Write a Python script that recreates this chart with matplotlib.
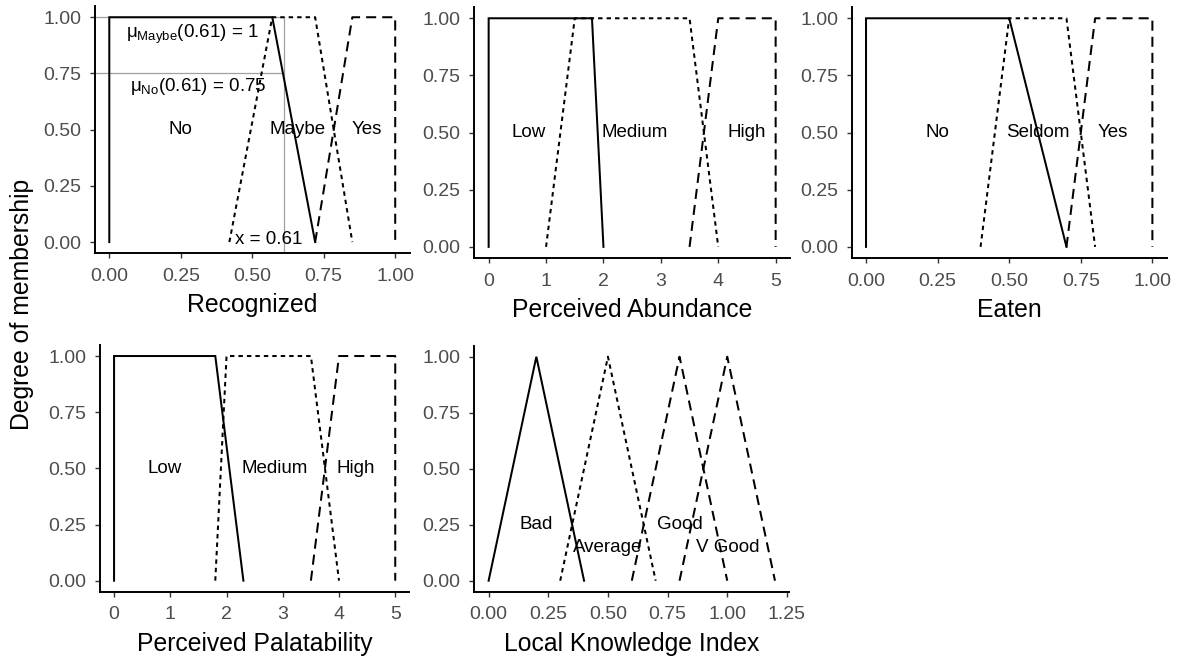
import matplotlib
matplotlib.use("Agg")
import matplotlib.pyplot as plt

plt.rcParams['font.family'] = ['Liberation Sans', 'DejaVu Sans']
plt.rcParams['mathtext.fontset'] = 'custom'
plt.rcParams['mathtext.rm'] = 'Liberation Sans'
plt.rcParams['mathtext.it'] = 'Liberation Sans:italic'

# ---------------- data ----------------
# Recognized
rec_no_x = [0, 0, 0.57, 0.72]
rec_no_y = [0, 1, 1, 0]
rec_maybe_x = [0.42, 0.57, 0.72, 0.85]
rec_maybe_y = [0, 1, 1, 0]
rec_yes_x = [0.72, 0.85, 1.0, 1.0]
rec_yes_y = [0, 1, 1, 0]
rec_labels = ["No", "Maybe", "Yes"]
rec_label_x = [0.25, 0.66, 0.90]
rec_xticks = [0.00, 0.25, 0.50, 0.75, 1.00]
rec_x_value = 0.61
rec_mu_maybe = 1.0
rec_mu_no = 0.75

# Perceived Abundance
ab_low_x = [0, 0, 1.8, 2.0]
ab_low_y = [0, 1, 1, 0]
ab_med_x = [1.0, 1.5, 3.5, 4.0]
ab_med_y = [0, 1, 1, 0]
ab_high_x = [3.5, 4.0, 5.0, 5.0]
ab_high_y = [0, 1, 1, 0]
ab_labels = ["Low", "Medium", "High"]
ab_label_x = [0.7, 2.55, 4.5]
ab_xticks = [0, 1, 2, 3, 4, 5]

# Eaten
eat_no_x = [0, 0, 0.5, 0.7]
eat_no_y = [0, 1, 1, 0]
eat_sel_x = [0.4, 0.5, 0.7, 0.8]
eat_sel_y = [0, 1, 1, 0]
eat_yes_x = [0.7, 0.8, 1.0, 1.0]
eat_yes_y = [0, 1, 1, 0]
eat_labels = ["No", "Seldom", "Yes"]
eat_label_x = [0.25, 0.6, 0.86]
eat_xticks = [0.00, 0.25, 0.50, 0.75, 1.00]

# Perceived Palatability
pal_low_x = [0, 0, 1.8, 2.3]
pal_low_y = [0, 1, 1, 0]
pal_med_x = [1.8, 2.0, 3.5, 4.0]
pal_med_y = [0, 1, 1, 0]
pal_high_x = [3.5, 4.0, 5.0, 5.0]
pal_high_y = [0, 1, 1, 0]
pal_labels = ["Low", "Medium", "High"]
pal_label_x = [0.9, 2.85, 4.3]
pal_xticks = [0, 1, 2, 3, 4, 5]

# Local Knowledge Index
lki_bad_x = [0.0, 0.2, 0.4]
lki_bad_y = [0, 1, 0]
lki_avg_x = [0.3, 0.5, 0.7]
lki_avg_y = [0, 1, 0]
lki_good_x = [0.6, 0.8, 1.0]
lki_good_y = [0, 1, 0]
lki_vgood_x = [0.8, 1.0, 1.2]
lki_vgood_y = [0, 1, 0]
lki_labels = ["Bad", "Average", "Good", "V Good"]
lki_label_x = [0.2, 0.5, 0.8, 1.0]
lki_label_y = [0.25, 0.15, 0.25, 0.15]
lki_xticks = [0.00, 0.25, 0.50, 0.75, 1.00, 1.25]

yticks = [0.00, 0.25, 0.50, 0.75, 1.00]

# ---------------- styles ----------------
LW = 1.45
SOLID = dict(color='black', lw=LW, linestyle='-', solid_joinstyle='miter')
DOTTED = dict(color='black', lw=LW, linestyle=(0, (2.2, 2.0)))
DASHED = dict(color='black', lw=LW, linestyle=(0, (5.0, 3.0)))
TICKCOL = '#4D4D4D'
TICK_FS = 14
LABEL_FS = 13.5
TITLE_FS = 17.8

W, H = 1179, 658
fig = plt.figure(figsize=(W / 100, H / 100), dpi=100)


def make_ax(left, top, right, bottom):
    return fig.add_axes([left / W, 1 - bottom / H, (right - left) / W, (bottom - top) / H])


def style(ax, xticks, xfmt, xlabel, xlim):
    for s in ['top', 'right']:
        ax.spines[s].set_visible(False)
    for s in ['left', 'bottom']:
        ax.spines[s].set_linewidth(1.4)
        ax.spines[s].set_color('black')
    ax.set_xlim(*xlim)
    ax.set_ylim(-0.05, 1.05)
    ax.set_yticks(yticks)
    ax.set_yticklabels([f"{v:.2f}" for v in yticks])
    ax.set_xticks(xticks)
    ax.set_xticklabels([xfmt.format(v) for v in xticks])
    ax.tick_params(axis='both', colors='#333333', labelcolor=TICKCOL, labelsize=TICK_FS,
                   length=3.8, width=1.0)
    ax.tick_params(axis='x', pad=6.5)
    ax.tick_params(axis='y', pad=6.0)
    ax.set_xlabel(xlabel, fontsize=TITLE_FS, color='black', labelpad=6)


def exp_lim(lo, hi):
    d = (hi - lo) * 0.05
    return (lo - d, hi + d)


# Panel 1: Recognized
ax1 = make_ax(95, 6, 409.5, 253.3)
ax1.plot([-0.05, rec_x_value], [rec_mu_maybe, rec_mu_maybe], color='#A0A0A0', lw=0.9, zorder=1)
ax1.plot([-0.05, rec_x_value], [rec_mu_no, rec_mu_no], color='#A0A0A0', lw=0.9, zorder=1)
ax1.plot([rec_x_value, rec_x_value], [-0.05, 1.0], color='#A0A0A0', lw=0.9, zorder=1)
ax1.plot(rec_no_x, rec_no_y, **SOLID)
ax1.plot(rec_maybe_x, rec_maybe_y, **DOTTED)
ax1.plot(rec_yes_x, rec_yes_y, **DASHED)
for lab, lx in zip(rec_labels, rec_label_x):
    ax1.text(lx, 0.5, lab, ha='center', va='center', fontsize=LABEL_FS)
ax1.text(0.29, 0.925, r'$\mathrm{μ_{Maybe}}$' + f'({rec_x_value:.2f}) = {rec_mu_maybe:g}',
         ha='center', va='center', fontsize=LABEL_FS)
ax1.text(0.31, 0.69, r'$\mathrm{μ_{No}}$' + f'({rec_x_value:.2f}) = {rec_mu_no:g}',
         ha='center', va='center', fontsize=LABEL_FS)
ax1.text(0.557, 0.01, f'x = {rec_x_value:.2f}', ha='center', va='center', fontsize=LABEL_FS)
style(ax1, rec_xticks, "{:.2f}", "Recognized", exp_lim(0, 1))

# Panel 2: Perceived Abundance
ax2 = make_ax(474.3, 6.85, 790, 258.3)
ax2.plot(ab_low_x, ab_low_y, **SOLID)
ax2.plot(ab_med_x, ab_med_y, **DOTTED)
ax2.plot(ab_high_x, ab_high_y, **DASHED)
for lab, lx in zip(ab_labels, ab_label_x):
    ax2.text(lx, 0.5, lab, ha='center', va='center', fontsize=LABEL_FS)
style(ax2, ab_xticks, "{:d}", "Perceived Abundance", exp_lim(0, 5))

# Panel 3: Eaten
ax3 = make_ax(851.7, 6.85, 1166.7, 258.3)
ax3.plot(eat_no_x, eat_no_y, **SOLID)
ax3.plot(eat_sel_x, eat_sel_y, **DOTTED)
ax3.plot(eat_yes_x, eat_yes_y, **DASHED)
for lab, lx in zip(eat_labels, eat_label_x):
    ax3.text(lx, 0.5, lab, ha='center', va='center', fontsize=LABEL_FS)
style(ax3, eat_xticks, "{:.2f}", "Eaten", exp_lim(0, 1))

# Panel 4: Perceived Palatability
ax4 = make_ax(100, 344.8, 409.3, 591.9)
ax4.plot(pal_low_x, pal_low_y, **SOLID)
ax4.plot(pal_med_x, pal_med_y, **DOTTED)
ax4.plot(pal_high_x, pal_high_y, **DASHED)
for lab, lx in zip(pal_labels, pal_label_x):
    ax4.text(lx, 0.5, lab, ha='center', va='center', fontsize=LABEL_FS)
style(ax4, pal_xticks, "{:d}", "Perceived Palatability", exp_lim(0, 5))

# Panel 5: Local Knowledge Index
ax5 = make_ax(474.3, 345.5, 789.3, 591.9)
ax5.plot(lki_bad_x, lki_bad_y, **SOLID)
ax5.plot(lki_avg_x, lki_avg_y, **DOTTED)
ax5.plot(lki_good_x, lki_good_y, **DASHED)
ax5.plot(lki_vgood_x, lki_vgood_y, **DASHED)
for lab, lx, ly in zip(lki_labels, lki_label_x, lki_label_y):
    ax5.text(lx, ly, lab, ha='center', va='center', fontsize=LABEL_FS)
style(ax5, lki_xticks, "{:.2f}", "Local Knowledge Index", exp_lim(0, 1.2))

fig.text(22 / W, 1 - 304 / H, "Degree of membership", rotation=90, ha='center', va='center',
         fontsize=TITLE_FS)

fig.savefig("out.png", dpi=100, facecolor='white')
